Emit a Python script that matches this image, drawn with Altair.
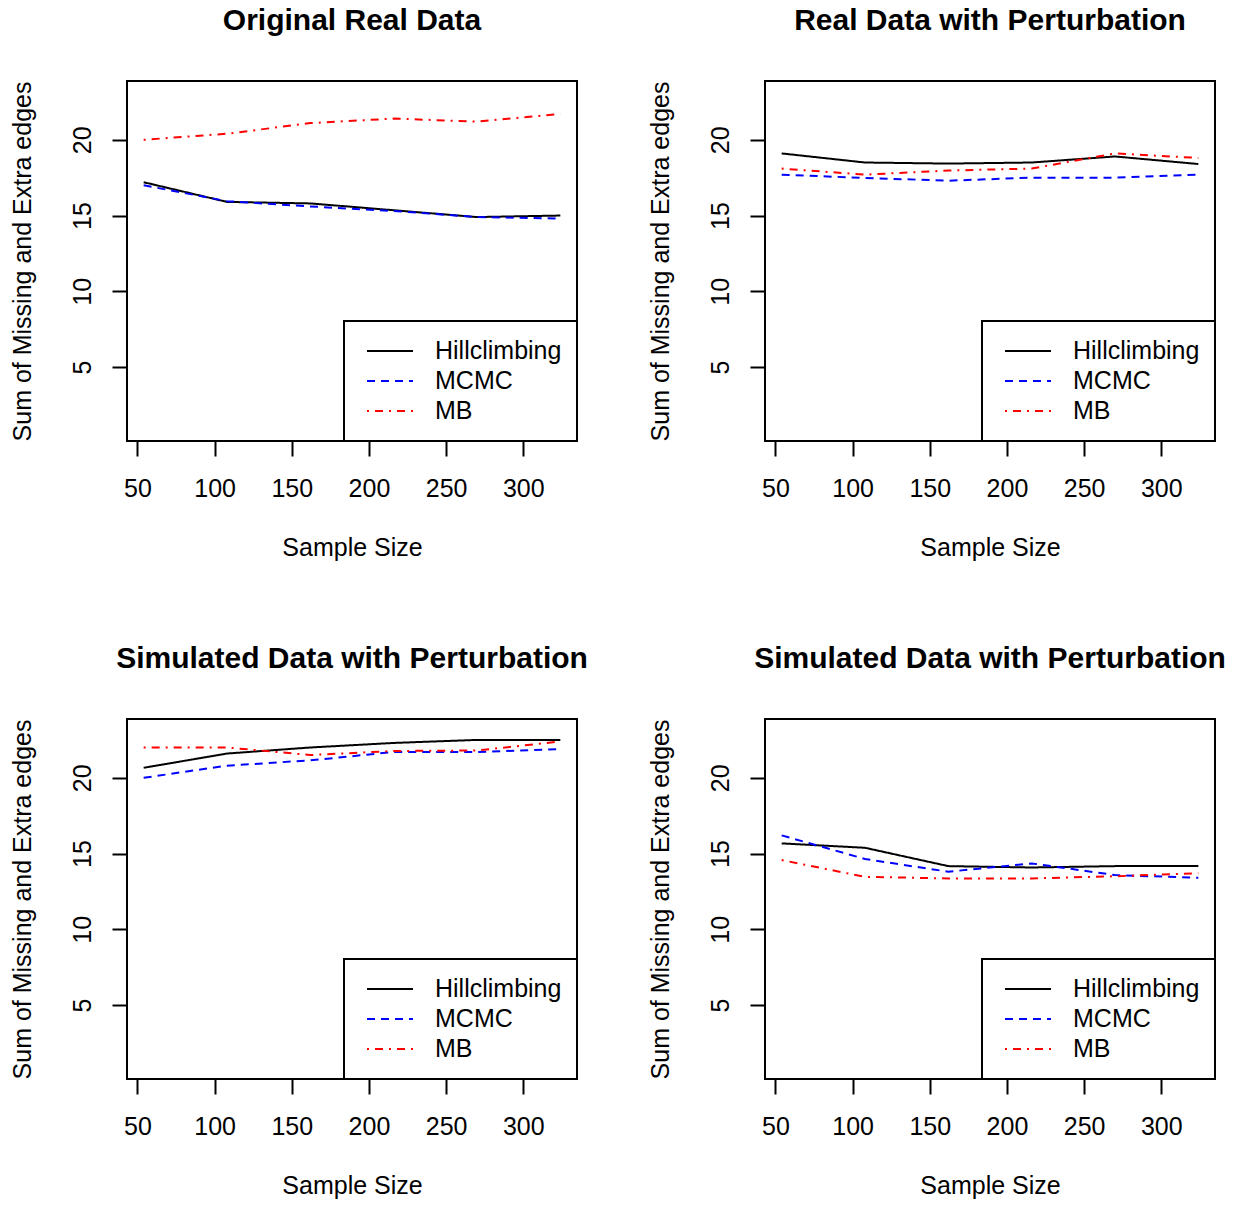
import altair as alt
import pandas as pd

sample_sizes = [54, 108, 162, 216, 270, 324]
series_names = ["Hillclimbing", "MCMC", "MB"]
series_colors = ["black", "blue", "red"]
series_dashes = [[1, 0], [8, 6], [2, 6, 8, 6]]

panel_titles = [
    "Original Real Data",
    "Real Data with Perturbation",
    "Simulated Data with Perturbation",
    "Simulated Data with Perturbation",
]

orig_hill = [17.2, 15.9, 15.8, 15.35, 14.9, 15.0]
orig_mcmc = [17.0, 15.95, 15.6, 15.3, 14.9, 14.8]
orig_mb = [20.0, 20.4, 21.1, 21.4, 21.2, 21.7]

pert_hill = [19.1, 18.5, 18.43, 18.5, 18.9, 18.4]
pert_mcmc = [17.7, 17.48, 17.3, 17.5, 17.5, 17.7]
pert_mb = [18.1, 17.7, 17.97, 18.1, 19.1, 18.8]

sim1_hill = [20.66, 21.6, 22.0, 22.3, 22.5, 22.5]
sim1_mcmc = [20.0, 20.8, 21.15, 21.7, 21.7, 21.9]
sim1_mb = [22.0, 22.0, 21.5, 21.77, 21.8, 22.4]

sim2_hill = [15.67, 15.38, 14.17, 14.08, 14.17, 14.17]
sim2_mcmc = [16.2, 14.64, 13.8, 14.35, 13.58, 13.4]
sim2_mb = [14.57, 13.46, 13.36, 13.36, 13.5, 13.7]

x_ticks = [50, 100, 150, 200, 250, 300]
y_ticks = [5, 10, 15, 20]
x_domain = [43.2, 334.8]
y_domain = [0.12, 23.88]

panels = [
    (orig_hill, orig_mcmc, orig_mb),
    (pert_hill, pert_mcmc, pert_mb),
    (sim1_hill, sim1_mcmc, sim1_mb),
    (sim2_hill, sim2_mcmc, sim2_mb),
]

FONT = "Liberation Sans"


def make_panel(title, series):
    rows = []
    for name, vals in zip(series_names, series):
        for n, v in zip(sample_sizes, vals):
            rows.append({"n": n, "value": v, "method": name})
    df = pd.DataFrame(rows)
    return (
        alt.Chart(df, title=title)
        .mark_line(strokeWidth=2)
        .encode(
            x=alt.X(
                "n:Q",
                title="Sample Size",
                scale=alt.Scale(domain=x_domain, nice=False, zero=False),
                axis=alt.Axis(values=x_ticks),
            ),
            y=alt.Y(
                "value:Q",
                title="Sum of Missing and Extra edges",
                scale=alt.Scale(domain=y_domain, nice=False, zero=False),
                axis=alt.Axis(values=y_ticks),
            ),
            color=alt.Color(
                "method:N",
                scale=alt.Scale(domain=series_names, range=series_colors),
                legend=alt.Legend(title=None),
            ),
            strokeDash=alt.StrokeDash(
                "method:N",
                scale=alt.Scale(domain=series_names, range=series_dashes),
                legend=alt.Legend(title=None),
            ),
        )
        .properties(width=450, height=360)
    )


charts = [make_panel(t, s) for t, s in zip(panel_titles, panels)]

chart = (
    alt.concat(
        *charts,
        columns=2,
        spacing={"row": 278, "column": 188},
        bounds="flush",
    )
    .resolve_scale(color="independent", strokeDash="independent")
    .properties(padding={"left": 8, "top": 5, "right": 5, "bottom": 5}, background="white")
    .configure_view(stroke="black", strokeWidth=2)
    .configure_axis(
        grid=False,
        domain=False,
        ticks=True,
        tickColor="black",
        tickWidth=2,
        tickSize=15,
        labelFont=FONT,
        labelFontSize=25,
        labelColor="black",
        titleFont=FONT,
        titleFontSize=25,
        titleFontWeight="normal",
        titleColor="black",
    )
    .configure_axisX(
        labelBaseline="alphabetic",
        labelPadding=40,
        titleY=114,
        titleBaseline="alphabetic",
    )
    .configure_axisY(
        labelAngle=270,
        labelAlign="center",
        labelBaseline="alphabetic",
        labelPadding=22,
        titleX=-97,
        titleY=180,
        titleAngle=270,
        titleAlign="center",
        titleBaseline="alphabetic",
    )
    .configure_title(
        font=FONT,
        fontSize=30,
        fontWeight="bold",
        color="black",
        anchor="middle",
        frame="group",
        offset=45,
        baseline="alphabetic",
    )
    .configure_legend(
        orient="bottom-right",
        offset=0,
        padding=15,
        strokeColor="black",
        strokeWidth=2,
        fillColor="white",
        labelFont=FONT,
        labelFontSize=25,
        labelColor="black",
        symbolType="stroke",
        symbolSize=2116,
        symbolStrokeWidth=2,
        clipHeight=30,
        rowPadding=0,
        labelOffset=21,
        symbolOffset=7,
    )
)

chart.save("out.html", embed_options={"renderer": "svg", "actions": False})
